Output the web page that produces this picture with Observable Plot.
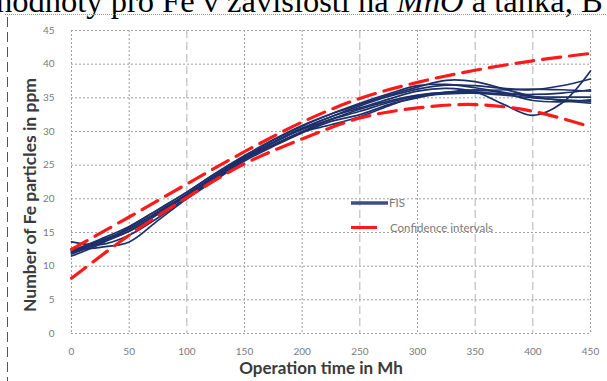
<!DOCTYPE html>
<html><head><meta charset="utf-8">
<script src="https://cdn.jsdelivr.net/npm/d3@7"></script>
<script src="https://cdn.jsdelivr.net/npm/@observablehq/plot@0.6"></script>
<style>
body{margin:0;background:#fff;}
#wrap{position:relative;width:607px;height:381px;overflow:hidden;background:#fff;}
#wrap svg{position:absolute;left:0;top:0;}
</style></head><body><div id="wrap"></div>
<script>
// ---- tick labels ----
const xTicks = [0, 50, 100, 150, 200, 250, 300, 350, 400, 450];
const yTicks = [0, 5, 10, 15, 20, 25, 30, 35, 40, 45];
const xDashedGrid = [100, 250, 350, 400];
const xDottedGrid = [0, 50, 150, 200, 300, 450];

// ---- confidence intervals ----
const ciTime = [0, 50, 100, 150, 200, 250, 300, 350, 400, 450];
const ciUpper = [12.5, 17.3, 22.2, 27.0, 31.4, 34.9, 37.3, 39.1, 40.5, 41.6];
const ciLower = [8.2, 14.6, 20.2, 25.2, 28.9, 32.0, 33.5, 34.0, 33.0, 30.7];

// ---- FIS runs ----
const fisTime = [0, 25, 50, 75, 100, 125, 150, 175, 200, 225, 250, 275, 300, 325, 350, 375, 400, 425, 450];
const fisA = [12.0,13.6,15.6,18.0,20.6,23.4,26.0,28.3,30.4,32.2,33.8,35.2,36.3,36.9,36.8,36.4,36.2,36.8,37.8];
const fisB = [11.5,13.3,15.8,18.4,21.0,23.8,26.4,28.8,30.9,32.6,34.0,35.4,36.6,37.6,37.4,36.3,35.2,34.6,34.2];
const fisC = [13.6,13.2,14.6,17.2,20.2,23.0,25.8,28.0,30.0,31.8,33.3,34.5,35.4,35.8,35.8,35.6,35.5,35.7,36.2];
const fisD = [12.4,12.8,13.6,16.8,20.0,22.8,25.6,27.8,29.8,31.5,32.5,34.0,35.0,35.8,36.2,35.7,34.6,34.4,34.7];
const fisE = [12.0,13.8,15.2,17.8,20.6,23.4,26.1,28.4,30.5,32.2,33.5,34.8,36.0,36.4,35.9,34.0,32.4,34.2,39.0];
const fisF = [12.2,13.8,15.5,18.1,20.7,23.5,26.2,28.4,30.3,31.8,33.0,34.3,35.3,35.8,36.0,36.2,36.3,36.2,36.0];
const fisG = [11.8,13.4,15.2,17.7,20.4,23.2,25.9,28.0,29.9,31.0,32.2,33.8,35.2,35.6,35.7,35.4,35.0,34.7,34.5];
const fisH = [12.3,14.0,15.9,18.4,21.0,23.8,26.4,28.7,30.8,32.6,34.2,35.6,36.8,37.0,36.5,35.8,35.2,35.1,35.1];
const fisRuns = [fisA, fisB, fisC, fisD, fisE, fisF, fisG, fisH];

// ---- texts ----
const headerText = ["hodnoty pro Fe v závislosti na ", "MhO", " a tanka, B"];
const xLabel = "Operation time in Mh";
const yLabel = "Number of Fe particles in ppm";
const legendLabels = ["FIS", "Confidence intervals"];

// build tables
const fisRows = [];
fisRuns.forEach((run, i) => run.forEach((v, j) => fisRows.push({t: fisTime[j], v, run: i})));
const ciRows = [];
ciTime.forEach((t, j) => {
  ciRows.push({t, v: ciUpper[j], s: "upper"});
  ciRows.push({t, v: ciLower[j], s: "lower"});
});

const plot = Plot.plot({
  width: 607, height: 381,
  marginLeft: 71, marginRight: 17, marginTop: 30, marginBottom: 48,
  x: {domain: [0, 450]},
  y: {domain: [0, 45]},
  style: {fontFamily: "Lato", background: "transparent"},
  marks: [
    Plot.ruleY(yTicks, {stroke: "#a0a0a0", strokeDasharray: "2,2", strokeWidth: 1}),
    Plot.ruleX(xDottedGrid, {stroke: "#a0a0a0", strokeDasharray: "2,2", strokeWidth: 1}),
    Plot.ruleX(xDashedGrid, {stroke: "#b0b0b0", strokeDasharray: "8,4", strokeWidth: 1}),
    Plot.line(fisRows, {x: "t", y: "v", z: "run", stroke: "#1d2f6a", strokeWidth: 1.7, curve: "catmull-rom"}),
    Plot.line(ciRows, {x: "t", y: "v", z: "s", stroke: "#ff1a1a", strokeWidth: 3.2, strokeDasharray: "18,9", curve: "catmull-rom"}),
    Plot.axisX({ticks: xTicks, tickSize: 0, tickPadding: 14, fontSize: 10, color: "#7a7a7a", label: null}),
    Plot.axisY({ticks: yTicks, tickSize: 0, tickPadding: 17, fontSize: 10, color: "#7a7a7a", label: null}),
    Plot.text([xLabel], {frameAnchor: "bottom", dx: -10, dy: 40, fontSize: 17, fontWeight: "bold", fill: "#3a3a3a"}),
    Plot.text([yLabel], {frameAnchor: "left", textAnchor: "middle", rotate: -90, dx: -41, dy: 13, fontSize: 17.5, fontWeight: "bold", fill: "#3a3a3a"})
  ]
});
document.getElementById("wrap").appendChild(plot);

// decorations overlay: clipped document text, frame lines, legend
const ov = d3.select("#wrap").append("svg").attr("width", 607).attr("height", 381);
const ht = ov.append("text").attr("x", -4).attr("y", 12)
  .attr("font-family", "Liberation Serif").attr("font-size", 32.5).attr("fill", "#000");
headerText.forEach((s, i) => ht.append("tspan").attr("font-style", i === 1 ? "italic" : null).text(s));
ov.append("line").attr("x1", 5).attr("x2", 607).attr("y1", 14.5).attr("y2", 14.5)
  .attr("stroke", "#999").attr("stroke-dasharray", "1,1");
ov.append("line").attr("x1", 7.5).attr("x2", 7.5).attr("y1", 17).attr("y2", 381)
  .attr("stroke", "#555").attr("stroke-dasharray", "10,5");

const lg = ov.append("g").attr("font-family", "Lato").attr("font-size", 11.5).attr("fill", "#7a7a7a");
lg.append("line").attr("x1", 351).attr("x2", 388).attr("y1", 203).attr("y2", 203)
  .attr("stroke", "#3c4d8c").attr("stroke-width", 3.5);
lg.append("text").attr("x", 389).attr("y", 207).text(legendLabels[0]);
lg.append("line").attr("x1", 351).attr("x2", 377).attr("y1", 227.5).attr("y2", 227.5)
  .attr("stroke", "#ff1a1a").attr("stroke-width", 3);
lg.append("text").attr("x", 390).attr("y", 231.5).text(legendLabels[1]);
</script></body></html>
